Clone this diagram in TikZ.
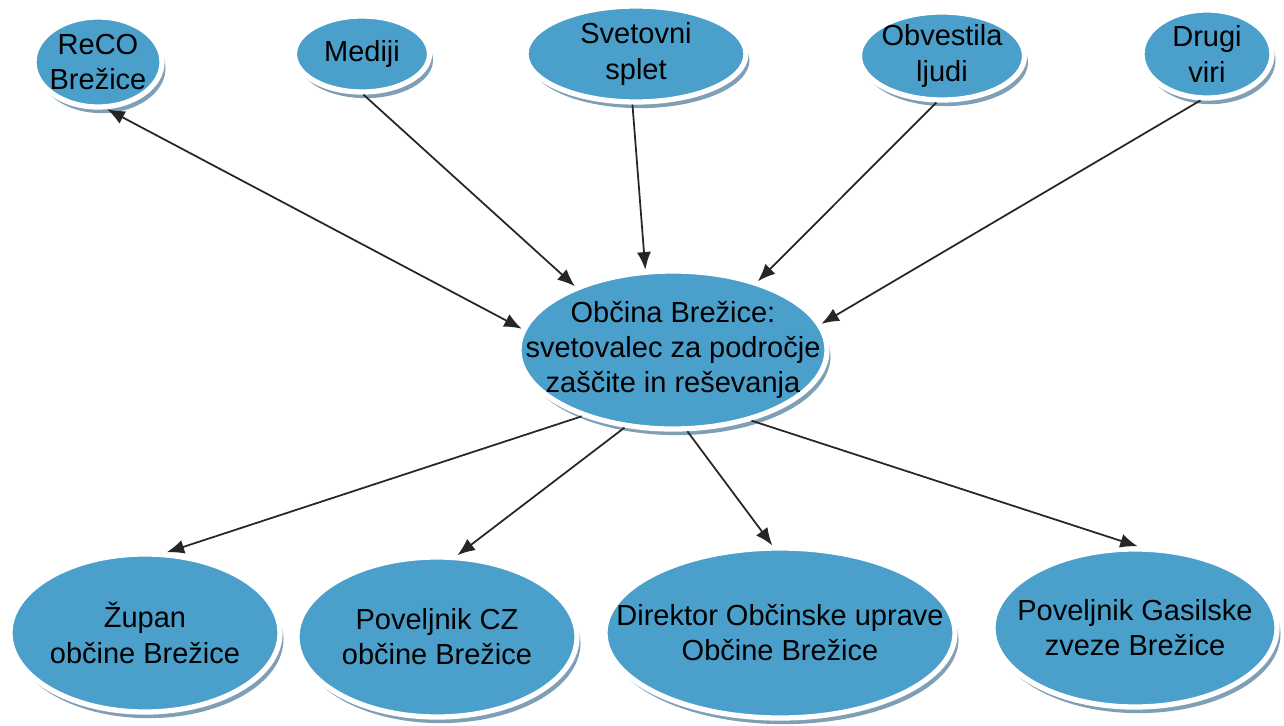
\documentclass[tikz,border=0pt]{standalone}
\usepackage{fontspec}
\setmainfont{Liberation Sans}
\usetikzlibrary{shapes.geometric, arrows.meta, positioning, shadows}
\definecolor{bubbleblue}{HTML}{4A9FCB}
\definecolor{shadowblue}{HTML}{7F9FB6}
\tikzstyle{bubble} = [
    ellipse,
    inner xsep=-30pt,
    inner ysep=-10pt,
    align=center,
    draw=white,
    line width=3pt,
    fill=bubbleblue,
    drop shadow={shadow xshift=2pt, shadow yshift=-3.5pt, fill=shadowblue, opacity=1},
    font=\fontsize{16.5}{20}\selectfont
]
\tikzstyle{arrow} = [line width=1pt,draw=black!85,-{Latex[length=10pt,width=8pt]}]
\tikzstyle{dblarrow} = [line width=1pt,draw=black!85,{Latex[length=10pt,width=8pt]}-{Latex[length=10pt,width=8pt]}]

\begin{document}
\begin{tikzpicture}
\useasboundingbox (0,0) rectangle (25.68,-14.52);

% sources
\node (reco) [bubble, minimum width=2.56cm, minimum height=1.8cm] at (1.96,-1.24) {ReCO\\Brežice};
\node (mediji) [bubble, minimum width=2.7cm, minimum height=1.52cm] at (7.24,-1.08) {Mediji};
\node (splet) [bubble, minimum width=4.4cm, minimum height=1.92cm] at (12.72,-1.08) {Svetovni\\splet};
\node (ljudi) [bubble, minimum width=3.3cm, minimum height=1.76cm] at (18.84,-1.12) {Obvestila\\ljudi};
\node (viri) [bubble, minimum width=2.6cm, minimum height=1.76cm] at (24.14,-1.08) {Drugi\\viri};

% centre
\node (obcina) [bubble, minimum width=6.16cm, minimum height=3.16cm] at (13.46,-7.0) {Občina Brežice:\\svetovalec za področje\\zaščite in reševanja};

% receivers
\node (zupan) [bubble, minimum width=5.4cm, minimum height=3.16cm] at (2.9,-12.66) {Župan\\občine Brežice};
\node (cz) [bubble, minimum width=5.6cm, minimum height=3.2cm] at (8.74,-12.74) {Poveljnik CZ\\občine Brežice};
\node (direktor) [bubble, minimum width=7.0cm, minimum height=3.4cm] at (15.6,-12.66) {Direktor Občinske uprave\\Občine Brežice};
\node (gasilci) [bubble, minimum width=5.68cm, minimum height=3.16cm] at (22.7,-12.56) {Poveljnik Gasilske\\zveze Brežice};

\draw [dblarrow] (reco.-79) -- (obcina.172);
\draw [arrow] (mediji.-88) -- (obcina.147);
\draw [arrow] (splet.-94) -- (obcina.109);
\draw [arrow] (ljudi.-97) -- (obcina.39);
\draw [arrow] (viri.-98) -- (obcina.10);

\draw [arrow] (obcina.216) -- (zupan.75);
\draw [arrow] (obcina.238) -- (cz.76);
\draw [arrow] (obcina.280) -- (direktor.95);
\draw [arrow] (obcina.318) -- (gasilci.88);

\end{tikzpicture}
\end{document}
